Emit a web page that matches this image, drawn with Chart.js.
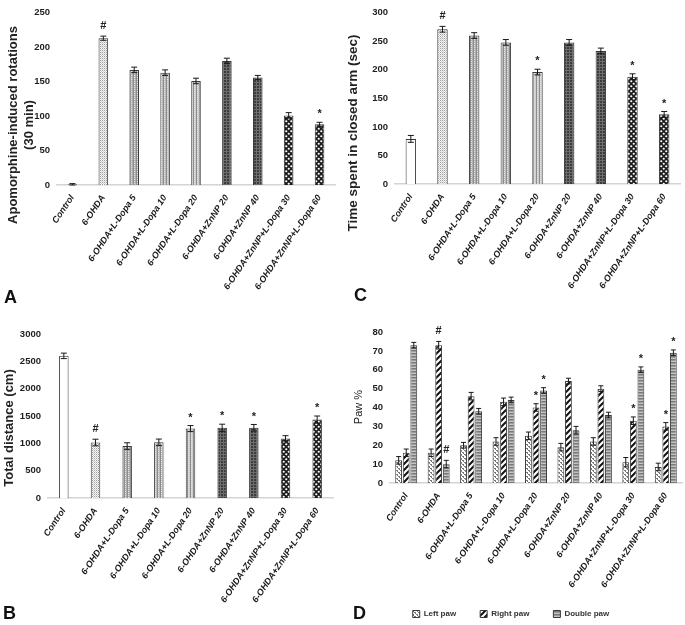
<!DOCTYPE html>
<html>
<head>
<meta charset="utf-8">
<script src="https://cdn.jsdelivr.net/npm/chart.js@4.4.0/dist/chart.umd.min.js"></script>
<style>
  body { margin: 0; background: #fff; width: 685px; height: 625px; overflow: hidden; position: relative; font-family: "Liberation Sans", Arial, sans-serif; }
  .panel { position: absolute; }
  .letter { position: absolute; font-weight: bold; font-size: 18px; color: #111; }
  .ytitle { position: absolute; transform: translate(-50%, -50%) rotate(-90deg); white-space: nowrap; text-align: center; font-weight: bold; color: #222; }
</style>
</head>
<body>
<div class="panel" style="left:0;top:0;width:340px;height:310px"><canvas id="chartA"></canvas></div>
<div class="panel" style="left:340px;top:0;width:345px;height:310px"><canvas id="chartC"></canvas></div>
<div class="panel" style="left:0;top:318px;width:340px;height:307px"><canvas id="chartB"></canvas></div>
<div class="panel" style="left:340px;top:318px;width:345px;height:307px"><canvas id="chartD"></canvas></div>

<div class="ytitle" style="left:21px;top:125px;font-size:13px;line-height:16px">Apomorphine-induced rotations<br>(30 min)</div>
<div class="ytitle" style="left:352px;top:133px;font-size:13.5px">Time spent in closed arm (sec)</div>
<div class="ytitle" style="left:8px;top:428px;font-size:13px">Total distance (cm)</div>
<div class="ytitle" style="left:358px;top:407px;font-size:11px;font-weight:normal">Paw %</div>

<div class="letter" style="left:4px;top:287px">A</div>
<div class="letter" style="left:354px;top:285px">C</div>
<div class="letter" style="left:3px;top:603px">B</div>
<div class="letter" style="left:353px;top:603px">D</div>

<script>
// Grupos (eje X)
const grupos = ['Control', '6-OHDA', '6-OHDA+L-Dopa 5', '6-OHDA+L-Dopa 10', '6-OHDA+L-Dopa 20',
  '6-OHDA+ZnNP 20', '6-OHDA+ZnNP 40', '6-OHDA+ZnNP+L-Dopa 30', '6-OHDA+ZnNP+L-Dopa 60'];

// A: rotaciones
const rotaciones = [1, 213, 167, 163, 151, 180, 156, 101, 88];
const rotacionesErr = [1, 3, 4, 4, 4, 4, 3, 4, 3];
const rotacionesMarcas = ['', '#', '', '', '', '', '', '', '*'];
const ticksA = [0, 50, 100, 150, 200, 250];

// C: tiempo en brazo cerrado
const tiempoCerrado = [79, 271, 260, 248, 196, 248, 233, 188, 122];
const tiempoErr = [6, 5, 5, 5, 5, 5, 5, 5, 5];
const tiempoMarcas = ['', '#', '', '', '*', '', '', '*', '*'];
const ticksC = [0, 50, 100, 150, 200, 250, 300];

// B: distancia total
const distancia = [2600, 1015, 950, 1018, 1270, 1285, 1285, 1090, 1435];
const distanciaErr = [50, 60, 60, 60, 55, 65, 60, 50, 65];
const distanciaMarcas = ['', '#', '', '', '*', '*', '*', '', '*'];
const ticksB = [0, 500, 1000, 1500, 2000, 2500, 3000];

// D: uso de patas
const patas = ['Left paw', 'Right paw', 'Double paw'];
const pataIzq = [12, 16, 20, 22, 25, 19, 22, 11, 8.5];
const pataDer = [16, 73, 46, 43, 40, 54, 50, 33, 30];
const pataDoble = [73, 10, 38, 44, 49, 28, 36, 60, 69];
const pataIzqErr = [2, 2, 1.5, 2, 2, 2, 2, 2.5, 2];
const pataDerErr = [2, 2, 2, 2, 2, 1.5, 1.5, 2, 2];
const pataDobleErr = [1.5, 2, 1.5, 1.5, 1.5, 2, 1.5, 1.5, 1.5];
const pataIzqMarcas = ['', '', '', '', '', '', '', '', ''];
const pataDerMarcas = ['', '#', '', '', '*', '', '', '*', '*'];
const pataDobleMarcas = ['', '#', '', '', '*', '', '', '*', '*'];
const ticksD = [0, 10, 20, 30, 40, 50, 60, 70, 80];

const FUENTE = '"Liberation Sans", Arial, sans-serif';

// Función para crear tramas de relleno
function trama(tipo) {
  const c = document.createElement('canvas');
  const g = c.getContext('2d');
  if (tipo === 'blanco') return '#ffffff';
  if (tipo === 'puntos') {
    c.width = 2; c.height = 2;
    g.fillStyle = '#f4f4f4'; g.fillRect(0, 0, 2, 2);
    g.fillStyle = '#a0a0a0'; g.fillRect(0, 0, 1, 1);
    g.fillStyle = '#d0d0d0'; g.fillRect(1, 1, 1, 1);
  } else if (tipo.startsWith('gris')) {
    const base = { gris1: '#b0b0b0', gris2: '#bcbcbc', gris3: '#cdcdcd' }[tipo];
    c.width = 3; c.height = 2;
    g.fillStyle = base; g.fillRect(0, 0, 3, 2);
    g.fillStyle = '#8c8c8c'; g.fillRect(1, 0, 1, 2);
    g.fillStyle = '#e6e6e6'; g.fillRect(2, 1, 1, 1);
  } else if (tipo === 'oscuro') {
    c.width = 3; c.height = 3;
    g.fillStyle = '#3c3c3c'; g.fillRect(0, 0, 3, 3);
    g.fillStyle = '#6e6e6e'; g.fillRect(1, 0, 1, 3); g.fillRect(0, 1, 3, 1);
  } else if (tipo === 'cuadros') {
    c.width = 5; c.height = 5;
    g.fillStyle = '#1e1e1e'; g.fillRect(0, 0, 5, 5);
    g.fillStyle = '#ffffff';
    g.beginPath(); g.arc(1.25, 1.25, 1.1, 0, Math.PI * 2); g.fill();
    g.beginPath(); g.arc(3.75, 3.75, 1.1, 0, Math.PI * 2); g.fill();
  } else if (tipo === 'izq') {
    c.width = 4; c.height = 4;
    g.fillStyle = '#ffffff'; g.fillRect(0, 0, 4, 4);
    g.fillStyle = '#7a7a7a'; g.fillRect(0, 0, 2, 1); g.fillRect(2, 2, 2, 1); g.fillRect(1, 1, 1, 1); g.fillRect(3, 3, 1, 1);
  } else if (tipo === 'der') {
    c.width = 6; c.height = 6;
    g.fillStyle = '#ffffff'; g.fillRect(0, 0, 6, 6);
    g.strokeStyle = '#111'; g.lineWidth = 2;
    g.beginPath();
    g.moveTo(-1, 7); g.lineTo(7, -1);
    g.moveTo(-4, 4); g.lineTo(4, -4);
    g.moveTo(2, 10); g.lineTo(10, 2);
    g.stroke();
  } else if (tipo === 'doble') {
    c.width = 2; c.height = 3;
    g.fillStyle = '#9a9a9a'; g.fillRect(0, 0, 2, 1);
    g.fillStyle = '#c4c4c4'; g.fillRect(0, 1, 2, 1);
    g.fillStyle = '#7a7a7a'; g.fillRect(0, 2, 2, 1);
  }
  return g.createPattern(c, 'repeat');
}

const rellenos = ['blanco', 'puntos', 'gris1', 'gris2', 'gris3', 'oscuro', 'oscuro', 'cuadros', 'cuadros'].map(trama);

// Plugin de barras de error y marcas de significancia
const barrasError = {
  id: 'barrasError',
  afterDatasetsDraw(chart) {
    const ctx = chart.ctx;
    const y = chart.scales.y;
    chart.data.datasets.forEach((ds, i) => {
      const meta = chart.getDatasetMeta(i);
      meta.data.forEach((bar, j) => {
        const v = ds.data[j], e = ds.errors[j];
        const top = y.getPixelForValue(v + e);
        const bot = y.getPixelForValue(Math.max(v - e, 0));
        const cap = ds.cap || 3;
        ctx.save();
        ctx.strokeStyle = '#1a1a1a';
        ctx.lineWidth = 1;
        ctx.beginPath();
        ctx.moveTo(bar.x, top); ctx.lineTo(bar.x, bot);
        ctx.moveTo(bar.x - cap, top); ctx.lineTo(bar.x + cap, top);
        ctx.moveTo(bar.x - cap, bot); ctx.lineTo(bar.x + cap, bot);
        ctx.stroke();
        const m = ds.marks[j];
        if (m) {
          ctx.fillStyle = '#222';
          ctx.font = 'bold 11px ' + FUENTE;
          ctx.textAlign = 'center';
          ctx.textBaseline = 'middle';
          ctx.fillText(m, bar.x, top - (m === '#' ? 10 : 8));
        }
        ctx.restore();
      });
    });
  }
};

// Función para generar cada gráfica de barras
function generarGrafica(id, config) {
  const ejeX = {
    offset: true,
    grid: { display: false, drawTicks: false },
    border: { display: true, color: '#d4d4d4', width: 1.5 },
    ticks: {
      autoSkip: false, minRotation: 56, maxRotation: 56, padding: 8,
      color: '#1a1a1a', font: { family: FUENTE, size: 9, weight: 'bold', style: 'italic' }
    },
    afterFit: (s) => { s.height = config.altoX; }
  };
  const ejeY = {
    min: config.ticks[0], max: config.ticks[config.ticks.length - 1],
    afterBuildTicks: (s) => { s.ticks = config.ticks.map(v => ({ value: v })); },
    grid: { display: false, drawTicks: false },
    border: { display: false },
    ticks: {
      padding: 7, color: '#1e1e1e', font: { family: FUENTE, size: 9.5, weight: 'bold' },
      callback: (v) => String(v)
    },
    afterFit: (s) => { s.width = config.anchoY; }
  };
  return new Chart(document.getElementById(id), {
    type: 'bar',
    data: { labels: grupos, datasets: config.datasets },
    options: {
      responsive: true,
      maintainAspectRatio: false,
      animation: false,
      layout: { padding: config.padding },
      scales: { x: ejeX, y: ejeY },
      plugins: {
        legend: config.leyenda || { display: false },
        tooltip: { enabled: false }
      }
    },
    plugins: config.plugins || [barrasError]
  });
}

function serieSimple(datos, errores, marcas, ancho) {
  return [{
    data: datos, errors: errores, marks: marcas,
    backgroundColor: rellenos, borderColor: '#3a3a3a', borderWidth: 1,
    categoryPercentage: 1, barPercentage: ancho
  }];
}

generarGrafica('chartA', {
  datasets: serieSimple(rotaciones, rotacionesErr, rotacionesMarcas, 0.31),
  ticks: ticksA, anchoY: 57, altoX: 125,
  padding: { top: 12, right: 5, left: 0, bottom: 0 }
});

generarGrafica('chartC', {
  datasets: serieSimple(tiempoCerrado, tiempoErr, tiempoMarcas, 0.33),
  ticks: ticksC, anchoY: 55, altoX: 126,
  padding: { top: 12, right: 5, left: 0, bottom: 0 }
});

generarGrafica('chartB', {
  datasets: serieSimple(distancia, distanciaErr, distanciaMarcas, 0.3),
  ticks: ticksB, anchoY: 48, altoX: 127,
  padding: { top: 16, right: 7, left: 0, bottom: 0 }
});

// Ajuste de la leyenda: separación horizontal amplia, altura compacta
const ALTO_LEYENDA = 21;
const ajusteLeyenda = {
  id: 'ajusteLeyenda',
  beforeUpdate(chart) {
    const ley = chart.legend;
    if (ley && !ley._ajustada) {
      const fit = ley.fit;
      ley.fit = function () { fit.call(this); this.height = ALTO_LEYENDA; };
      ley._ajustada = true;
    }
  },
  afterLayout(chart) {
    const ley = chart.legend;
    ley.top = ley.bottom - 39;
  }
};

const mkPata = (datos, err, marcas, tipo, etiqueta) => ({
  label: etiqueta, data: datos, errors: err, marks: marcas, cap: 2.5,
  backgroundColor: trama(tipo), borderColor: '#3a3a3a', borderWidth: 1,
  categoryPercentage: 0.7, barPercentage: 0.9
});

generarGrafica('chartD', {
  datasets: [
    mkPata(pataIzq, pataIzqErr, pataIzqMarcas, 'izq', patas[0]),
    mkPata(pataDer, pataDerErr, pataDerMarcas, 'der', patas[1]),
    mkPata(pataDoble, pataDobleErr, pataDobleMarcas, 'doble', patas[2])
  ],
  ticks: ticksD, anchoY: 50, altoX: 121,
  padding: { top: 14, right: 3, left: 0, bottom: 0 },
  leyenda: {
    display: true, position: 'bottom',
    labels: {
      boxWidth: 7, boxHeight: 7, padding: 24, color: '#333',
      font: { family: FUENTE, size: 8, weight: 'bold' }
    }
  },
  plugins: [barrasError, ajusteLeyenda]
});
</script>
</body>
</html>
